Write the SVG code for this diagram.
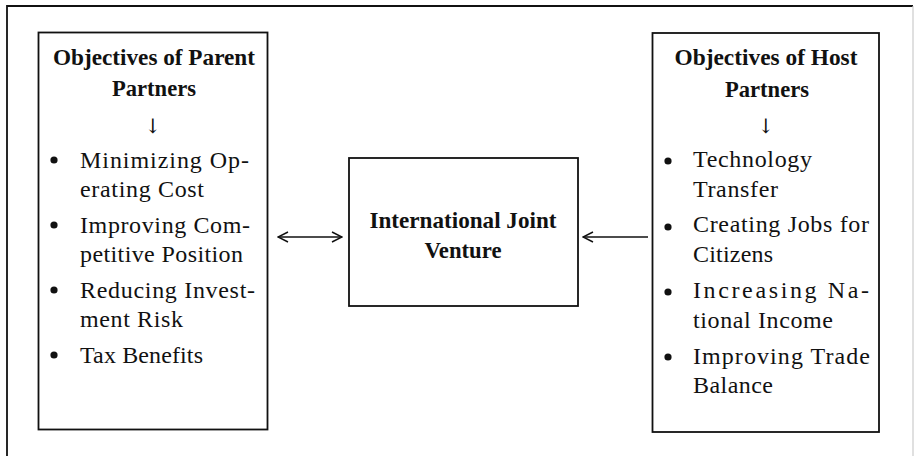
<svg xmlns="http://www.w3.org/2000/svg" width="914" height="456" viewBox="0 0 914 456">
<style>
  .box { fill: #ffffff; stroke: #111111; stroke-width: 1.8; }
  .frame { fill: none; stroke: #111111; stroke-width: 1.8; }
  .title { font-family: "Liberation Serif", "Times New Roman", serif; font-weight: bold; font-size: 23px; fill: #111111; text-anchor: middle; }
  .item { font-family: "Liberation Serif", "Times New Roman", serif; font-size: 24px; fill: #111111; }
  .down { font-family: "DejaVu Serif", "Liberation Serif", serif; font-size: 20px; fill: #111111; text-anchor: middle; }
  .bullet { fill: #111111; }
  .conn { stroke: #111111; stroke-width: 1.5; fill: none; }
</style>
<defs>
  <marker id="open" viewBox="0 0 12 12" refX="11" refY="6" markerWidth="12" markerHeight="12" markerUnits="userSpaceOnUse" orient="auto-start-reverse">
    <path d="M1,1 L11,6 L1,11" fill="none" stroke="#111111" stroke-width="1.5"/>
  </marker>
</defs>
<rect width="914" height="456" fill="#ffffff"/>
<path class="frame" d="M7,456 L7,6 L913,6"/>
<line x1="913" y1="6" x2="913" y2="456" stroke="#cccccc" stroke-width="1.2"/>

<g id="parent">
  <rect class="box" x="38.5" y="32.5" width="229" height="397"/>
  <text class="title" x="154" y="65" textLength="202" lengthAdjust="spacingAndGlyphs">Objectives of Parent</text>
  <text class="title" x="154" y="96" textLength="84" lengthAdjust="spacingAndGlyphs">Partners</text>
  <text class="down" x="153" y="133">↓</text>
  <circle class="bullet" cx="54" cy="160" r="3.6"/>
  <text class="item" x="80" y="168" textLength="169" lengthAdjust="spacing">Minimizing Op-</text>
  <text class="item" x="80" y="197" textLength="124" lengthAdjust="spacing">erating Cost</text>
  <circle class="bullet" cx="54" cy="225" r="3.6"/>
  <text class="item" x="80" y="233" textLength="170" lengthAdjust="spacing">Improving Com-</text>
  <text class="item" x="80" y="262" textLength="163" lengthAdjust="spacing">petitive Position</text>
  <circle class="bullet" cx="54" cy="290" r="3.6"/>
  <text class="item" x="80" y="298" textLength="175" lengthAdjust="spacing">Reducing Invest-</text>
  <text class="item" x="80" y="327" textLength="103" lengthAdjust="spacing">ment Risk</text>
  <circle class="bullet" cx="54" cy="355" r="3.6"/>
  <text class="item" x="80" y="363" textLength="123" lengthAdjust="spacing">Tax Benefits</text>
</g>

<g id="ijv">
  <rect class="box" x="349" y="158" width="229" height="148"/>
  <text class="title" x="463" y="228" textLength="187" lengthAdjust="spacingAndGlyphs">International Joint</text>
  <text class="title" x="463" y="258" textLength="77" lengthAdjust="spacingAndGlyphs">Venture</text>
</g>

<g id="host">
  <rect class="box" x="652.5" y="33" width="226.5" height="399"/>
  <text class="title" x="766" y="65" textLength="183" lengthAdjust="spacingAndGlyphs">Objectives of Host</text>
  <text class="title" x="767" y="97" textLength="84" lengthAdjust="spacingAndGlyphs">Partners</text>
  <text class="down" x="766" y="133">↓</text>
  <circle class="bullet" cx="668" cy="161" r="3.6"/>
  <text class="item" x="693" y="167" textLength="119" lengthAdjust="spacing">Technology</text>
  <text class="item" x="693" y="197" textLength="85" lengthAdjust="spacing">Transfer</text>
  <circle class="bullet" cx="668" cy="227" r="3.6"/>
  <text class="item" x="693" y="232" textLength="176" lengthAdjust="spacing">Creating Jobs for</text>
  <text class="item" x="693" y="262" textLength="80" lengthAdjust="spacing">Citizens</text>
  <circle class="bullet" cx="668" cy="292" r="3.6"/>
  <text class="item" x="693" y="298" textLength="176" lengthAdjust="spacing">Increasing Na-</text>
  <text class="item" x="693" y="328" textLength="140" lengthAdjust="spacing">tional Income</text>
  <circle class="bullet" cx="668" cy="357" r="3.6"/>
  <text class="item" x="693" y="364" textLength="177" lengthAdjust="spacing">Improving Trade</text>
  <text class="item" x="693" y="393" textLength="80" lengthAdjust="spacing">Balance</text>
</g>

<g id="connectors">
  <line class="conn" x1="278" y1="237" x2="342" y2="237" marker-start="url(#open)" marker-end="url(#open)"/>
  <line class="conn" x1="648" y1="237" x2="583" y2="237" marker-end="url(#open)"/>
</g>
</svg>
